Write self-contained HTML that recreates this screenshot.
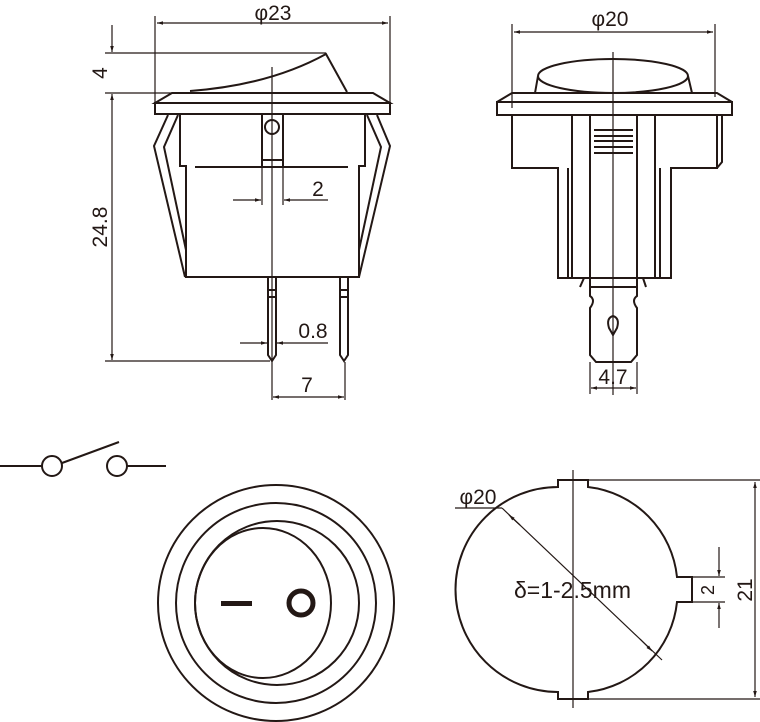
<!DOCTYPE html>
<html><head><style>body{margin:0;background:#fff}svg{display:block}text{font-family:"Liberation Sans",sans-serif;fill:#231815}</style></head>
<body>
<svg width="760" height="722" viewBox="0 0 760 722" xmlns="http://www.w3.org/2000/svg">
<defs>
<marker id="a" viewBox="0 0 10 10" refX="10" refY="5" markerWidth="12" markerHeight="6" orient="auto-start-reverse" markerUnits="userSpaceOnUse"><path d="M0,2 L10,5 L0,8z" fill="#231815"/></marker>
</defs>
<g stroke="#231815" fill="none">
<g stroke-width="1.2">
<line x1="155" y1="16" x2="155" y2="104"/><line x1="390" y1="16" x2="390" y2="104"/>
<line x1="157" y1="23" x2="388" y2="23" marker-start="url(#a)" marker-end="url(#a)"/>
<line x1="105" y1="53" x2="326" y2="53"/><line x1="105" y1="93" x2="175" y2="93"/>
<line x1="112" y1="25" x2="112" y2="52" marker-end="url(#a)"/>
<line x1="112" y1="94" x2="112" y2="360" marker-start="url(#a)" marker-end="url(#a)"/>
<line x1="105" y1="361" x2="270" y2="361"/>
<line x1="272" y1="67" x2="272" y2="400"/>
<line x1="262" y1="167" x2="262" y2="205"/><line x1="283" y1="167" x2="283" y2="205"/>
<line x1="233" y1="200" x2="261" y2="200" marker-end="url(#a)"/>
<line x1="328" y1="200" x2="284" y2="200" marker-end="url(#a)"/>
<line x1="240" y1="343" x2="267" y2="343" marker-end="url(#a)"/>
<line x1="328" y1="343" x2="277" y2="343" marker-end="url(#a)"/>
<line x1="345" y1="362" x2="345" y2="400"/>
<line x1="273" y1="397" x2="344" y2="397" marker-start="url(#a)" marker-end="url(#a)"/>
</g>
<g stroke-width="2">
<path d="M190,91 Q270,85 326,54 L347,92"/>
<path d="M155,103 L172,93 L373,93 L390,103 Z"/>
<rect x="155" y="103" width="235" height="11"/>
<path d="M180,114 V166 H186 V277 H359 V166 H365 V114"/>
<path d="M168,115 L154,146 L185,277"/><path d="M178,115 L164,147 L186,250"/>
<path d="M377,115 L390,146 L359,277"/><path d="M367,115 L381,147 L359,250"/>
<line x1="195" y1="167" x2="348" y2="167"/>
<path d="M262,114 V167 M283,114 V167 M262,160 H283"/>
<circle cx="272" cy="127" r="7"/>
<path d="M268,277 V355 L272,361 L276,355 V277 M268,290 H276 M268,297 H276"/>
<path d="M340,277 V355 L344,361 L348,355 V277 M340,290 H348 M340,297 H348"/>
</g>
<g stroke-width="1.2">
<line x1="512" y1="24" x2="512" y2="108"/><line x1="715" y1="24" x2="715" y2="97"/>
<line x1="514" y1="32" x2="713" y2="32" marker-start="url(#a)" marker-end="url(#a)"/>
<line x1="613" y1="52" x2="613" y2="395"/>
<line x1="590" y1="362" x2="590" y2="394"/><line x1="637" y1="362" x2="637" y2="394"/>
<line x1="591" y1="388" x2="636" y2="388" marker-start="url(#a)" marker-end="url(#a)"/>
</g>
<g stroke-width="2">
<ellipse cx="613" cy="76" rx="75" ry="17"/>
<path d="M538,76 L535,93 M688,76 L692,93"/>
<path d="M497,102 L512,93 L717,93 L732,102"/>
<rect x="497" y="102" width="235" height="13"/>
<path d="M512,115 V168 H558 V278 H671 V168 H717 V115"/>
<path d="M717,115 H722 V162 L717,168"/>
<path d="M568,168 V278 M572,168 V278 M572,115 V168 M590,115 V287 H637 V115 M655,115 V168 M655,168 V278 M660,168 V278"/>
<path d="M594,130 H633 M594,136 H633 M594,141 H633 M594,147 H633 M594,153 H633"/>
<path d="M590,287 V296 Q596,300 590,308 V355 L596,362 H631 L637,355 V308 Q631,300 637,296 V287"/>
<path d="M613,316 Q620,318 617,328 L613,335 L609,328 Q606,318 613,316 Z"/>
<path d="M584,278 L580,287 M643,278 L646,287"/>
</g>
<g stroke-width="2">
<line x1="0" y1="466" x2="42" y2="466"/>
<circle cx="52" cy="466" r="10"/>
<line x1="62" y1="463" x2="119" y2="442"/>
<circle cx="117" cy="466" r="10"/>
<line x1="127" y1="466" x2="166" y2="466"/>
</g>
<g stroke-width="2">
<circle cx="276" cy="603" r="118"/>
<circle cx="276" cy="603" r="100"/>
<circle cx="277" cy="603" r="82"/>
<ellipse cx="263" cy="603" rx="68" ry="75"/>
<circle cx="301" cy="603" r="12" stroke-width="5"/>
</g>
<rect x="221" y="601" width="31" height="5" fill="#231815" stroke="none"/>
<g stroke-width="2">
<path d="M558,487 V480 H588 V487 A101,101 0 0 1 677,577 H692 V602 H677 A101,101 0 0 1 588,692 V699 H558 V692 A101,101 0 1 1 558,487 Z"/>
</g>
<g stroke-width="1.2">
<line x1="573" y1="470" x2="573" y2="708"/>
<line x1="588" y1="480" x2="760" y2="480"/><line x1="588" y1="699" x2="760" y2="699"/>
<line x1="755" y1="482" x2="755" y2="697" marker-start="url(#a)" marker-end="url(#a)"/>
<line x1="692" y1="577" x2="725" y2="577"/><line x1="692" y1="602" x2="725" y2="602"/>
<line x1="719" y1="547" x2="719" y2="576" marker-end="url(#a)"/>
<line x1="719" y1="628" x2="719" y2="603" marker-end="url(#a)"/>
<line x1="455" y1="508" x2="502" y2="508"/>
<line x1="502" y1="508" x2="662" y2="660"/>
<line x1="520" y1="525" x2="509" y2="515" marker-end="url(#a)"/>
<line x1="640" y1="639" x2="652" y2="651" marker-end="url(#a)"/>
</g>
</g>
<g font-size="21">
<text x="273" y="20" text-anchor="middle">φ23</text>
<text x="610" y="26" text-anchor="middle">φ20</text>
<text x="318" y="196" text-anchor="middle">2</text>
<text x="313" y="338" text-anchor="middle">0.8</text>
<text x="307" y="392" text-anchor="middle">7</text>
<text x="613" y="384" text-anchor="middle">4.7</text>
<text x="478" y="504" text-anchor="middle">φ20</text>
<text transform="translate(107,73) rotate(-90)" text-anchor="middle">4</text>
<text transform="translate(107,227) rotate(-90)" text-anchor="middle">24.8</text>
<text transform="translate(752,590) rotate(-90)" text-anchor="middle">21</text>
<text transform="translate(714,590) rotate(-90)" text-anchor="middle" font-size="18">2</text>
<text x="514" y="598" font-size="23">δ=1-2.5mm</text>
</g>
</svg>
</body></html>
